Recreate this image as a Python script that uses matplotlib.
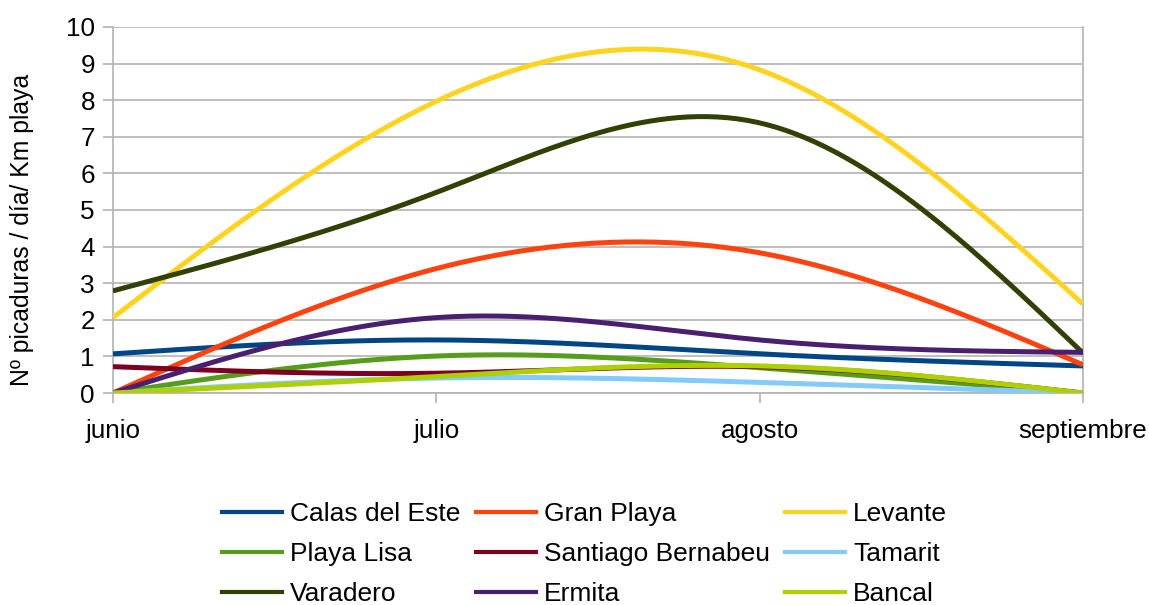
import numpy as np
import matplotlib
matplotlib.use('Agg')
import matplotlib.pyplot as plt

months = ['junio', 'julio', 'agosto', 'septiembre']

calas_del_este = [1.07, 1.45, 1.07, 0.74]
gran_playa = [0.0, 3.40, 3.83, 0.77]
levante = [2.06, 7.97, 8.83, 2.43]
playa_lisa = [0.0, 1.01, 0.69, 0.0]
santiago_bernabeu = [0.72, 0.54, 0.72, 0.0]
tamarit = [0.0, 0.41, 0.29, 0.0]
varadero = [2.79, 5.48, 7.38, 1.09]
ermita = [0.0, 2.06, 1.45, 1.11]
bancal = [0.0, 0.45, 0.74, 0.0]

names = ['Calas del Este', 'Gran Playa', 'Levante', 'Playa Lisa',
         'Santiago Bernabeu', 'Tamarit', 'Varadero', 'Ermita', 'Bancal']
series = [calas_del_este, gran_playa, levante, playa_lisa,
          santiago_bernabeu, tamarit, varadero, ermita, bancal]
colors = ['#004586', '#ff420e', '#ffd320', '#579d1c', '#7e0021',
          '#83caff', '#314004', '#4b1f6f', '#aecf00']


def natural_spline(y, n=200):
    # natural cubic spline over evenly spaced categories
    y = np.asarray(y, dtype=float)
    k = len(y)
    A = np.zeros((k, k))
    b = np.zeros(k)
    A[0, 0] = 1
    A[-1, -1] = 1
    for i in range(1, k - 1):
        A[i, i - 1] = 1
        A[i, i] = 4
        A[i, i + 1] = 1
        b[i] = 6 * (y[i + 1] - 2 * y[i] + y[i - 1])
    M = np.linalg.solve(A, b)
    xs = np.linspace(0, k - 1, n)
    idx = np.minimum(np.floor(xs).astype(int), k - 2)
    t = xs - idx
    u = 1 - t
    ys = (y[idx] * u + y[idx + 1] * t
          + (u ** 3 - u) * M[idx] / 6 + (t ** 3 - t) * M[idx + 1] / 6)
    return xs, ys


plt.rcParams['font.family'] = ['Liberation Sans', 'DejaVu Sans']

fig = plt.figure(figsize=(11.49, 6.05), dpi=100)
ax = fig.add_axes([0.0983, 0.3504, 0.8443, 0.605])

lines = []
for name, vals, c in zip(names, series, colors):
    xs, ys = natural_spline(vals)
    ax.plot(xs, ys, color=c, lw=3.6, solid_capstyle='butt', zorder=3)
    lines.append(plt.Line2D([], [], color=c, lw=3.0, label=name))

ax.set_xlim(0, 3)
ax.set_ylim(0, 10)
ax.set_yticks(range(0, 11))
ax.set_xticks(range(len(months)))
ax.set_xticklabels(months)
ax.grid(axis='y', color='#b3b3b3', lw=1.2)
ax.set_axisbelow(True)
for s in ax.spines.values():
    s.set_color('#b3b3b3')
    s.set_linewidth(1.2)
ax.spines['top'].set_visible(False)
ax.tick_params(axis='both', colors='#b3b3b3', labelcolor='black',
               labelsize=18.7, length=7, width=1.2)
ax.tick_params(axis='x', pad=12)
ax.tick_params(axis='y', pad=6)
ax.set_ylabel('Nº picaduras / día/ Km playa', fontsize=17.8, va='center')
ax.yaxis.set_label_coords(-0.0938, 0.445)

order = [0, 3, 6, 1, 4, 7, 2, 5, 8]
fig.legend([lines[i] for i in order], [names[i] for i in order],
           ncol=3, loc='upper left', bbox_to_anchor=(0.193, 0.170),
           frameon=False, fontsize=19, handlelength=2.27,
           handletextpad=0.3, columnspacing=0.6, labelspacing=0.6,
           borderpad=0, borderaxespad=0)

fig.savefig('out.png', dpi=100)
